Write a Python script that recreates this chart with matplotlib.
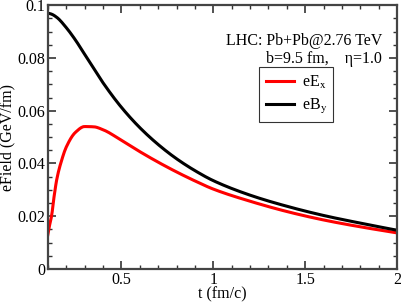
import matplotlib
matplotlib.use("Agg")
import matplotlib.pyplot as plt
import numpy as np
from matplotlib.ticker import MultipleLocator

plt.rcParams['font.family'] = ['Liberation Serif', 'DejaVu Serif']
plt.rcParams['mathtext.fontset'] = 'stix'

t_E = [0.1, 0.11, 0.12, 0.135, 0.15, 0.175, 0.2, 0.25, 0.3, 0.35, 0.4, 0.5, 0.6, 0.7,
       0.8, 0.9, 1.0, 1.2, 1.4, 1.6, 1.8, 2.0]
eEx = [0.013, 0.0168, 0.0200, 0.0280, 0.0345, 0.0412, 0.0462, 0.0518, 0.0540, 0.0539,
       0.0528, 0.0488, 0.0445, 0.0405, 0.0368, 0.0334, 0.0303, 0.0257, 0.0218, 0.0186,
       0.0160, 0.0137]

t_B = [0.1, 0.12, 0.15, 0.2, 0.25, 0.3, 0.4, 0.5, 0.6, 0.7, 0.8, 0.9, 1.0, 1.2, 1.4,
       1.6, 1.8, 2.0]
eBy = [0.0970, 0.0966, 0.0953, 0.0915, 0.0868, 0.0814, 0.0706, 0.0613, 0.0536, 0.0472,
       0.0418, 0.0373, 0.0335, 0.0280, 0.0238, 0.0203, 0.0174, 0.0147]

series_labels = [r'eE$_\mathrm{x}$', r'eB$_\mathrm{y}$']

fig = plt.figure(figsize=(4.02, 3.03), dpi=100)
ax = fig.add_axes([0.119, 0.112, 0.869, 0.871])

ts = np.linspace(0.1, 2.0, 400)

def smooth(x, y):
    # PCHIP-style cubic through the read points, for a smooth drawn curve
    x = np.asarray(x); y = np.asarray(y)
    h = np.diff(x); d = np.diff(y) / h
    m = np.zeros_like(y)
    for i in range(1, len(y) - 1):
        if d[i-1] * d[i] > 0:
            w1 = 2*h[i] + h[i-1]; w2 = h[i] + 2*h[i-1]
            m[i] = (w1 + w2) / (w1/d[i-1] + w2/d[i])
    m[0] = d[0]; m[-1] = d[-1]
    out = np.empty_like(ts)
    for k, tv in enumerate(ts):
        i = min(np.searchsorted(x, tv) - 1, len(x) - 2); i = max(i, 0)
        hh = h[i]; s = (tv - x[i]) / hh
        h00 = 2*s**3 - 3*s**2 + 1; h10 = s**3 - 2*s**2 + s
        h01 = -2*s**3 + 3*s**2; h11 = s**3 - s**2
        out[k] = h00*y[i] + h10*hh*m[i] + h01*y[i+1] + h11*hh*m[i+1]
    return out

ax.plot(ts, smooth(t_E, eEx), color='#ff0000', lw=2.2, label=series_labels[0])
ax.plot(ts, smooth(t_B, eBy), color='black', lw=2.2, label=series_labels[1])

ax.set_xlim(0.1, 2.0)
ax.set_ylim(0, 0.1)
ax.xaxis.set_minor_locator(MultipleLocator(0.1))
ax.yaxis.set_minor_locator(MultipleLocator(0.005))
ax.set_xticks([0.5, 1, 1.5, 2])
ax.set_xticklabels(['0.5', '1', '1.5', '2'])
ax.set_yticks([0, 0.02, 0.04, 0.06, 0.08, 0.1])
ax.set_yticklabels(['0', '0.02', '0.04', '0.06', '0.08', '0.1'])
ax.tick_params(which='both', direction='in', top=True, right=True, labelsize=11.5,
               colors='#333333', labelcolor='black', pad=2)
ax.tick_params(which='major', length=6, width=1.2)
ax.tick_params(which='minor', length=3, width=1.0)
for s in ax.spines.values():
    s.set_linewidth(1.6)
    s.set_color('#444444')

ax.set_xlabel('t (fm/c)', fontsize=11.5, labelpad=-1)
ax.set_ylabel('eField (GeV/fm)', fontsize=11.5, labelpad=1)

ax.text(0.957, 0.848, 'LHC: Pb+Pb@2.76 TeV', transform=ax.transAxes, ha='right',
        va='baseline', fontsize=11.5)
ax.text(0.957, 0.78, 'b=9.5 fm,    η=1.0', transform=ax.transAxes, ha='right',
        va='baseline', fontsize=11.5)

leg = ax.legend(loc='upper left', bbox_to_anchor=(0.605, 0.765), borderaxespad=0,
                fontsize=11.5, frameon=True, fancybox=False, edgecolor='black',
                handlelength=1.75, borderpad=0.4, labelspacing=0.4, handletextpad=0.5)
leg.get_frame().set_linewidth(0.8)

fig.savefig('out.png', dpi=100)
